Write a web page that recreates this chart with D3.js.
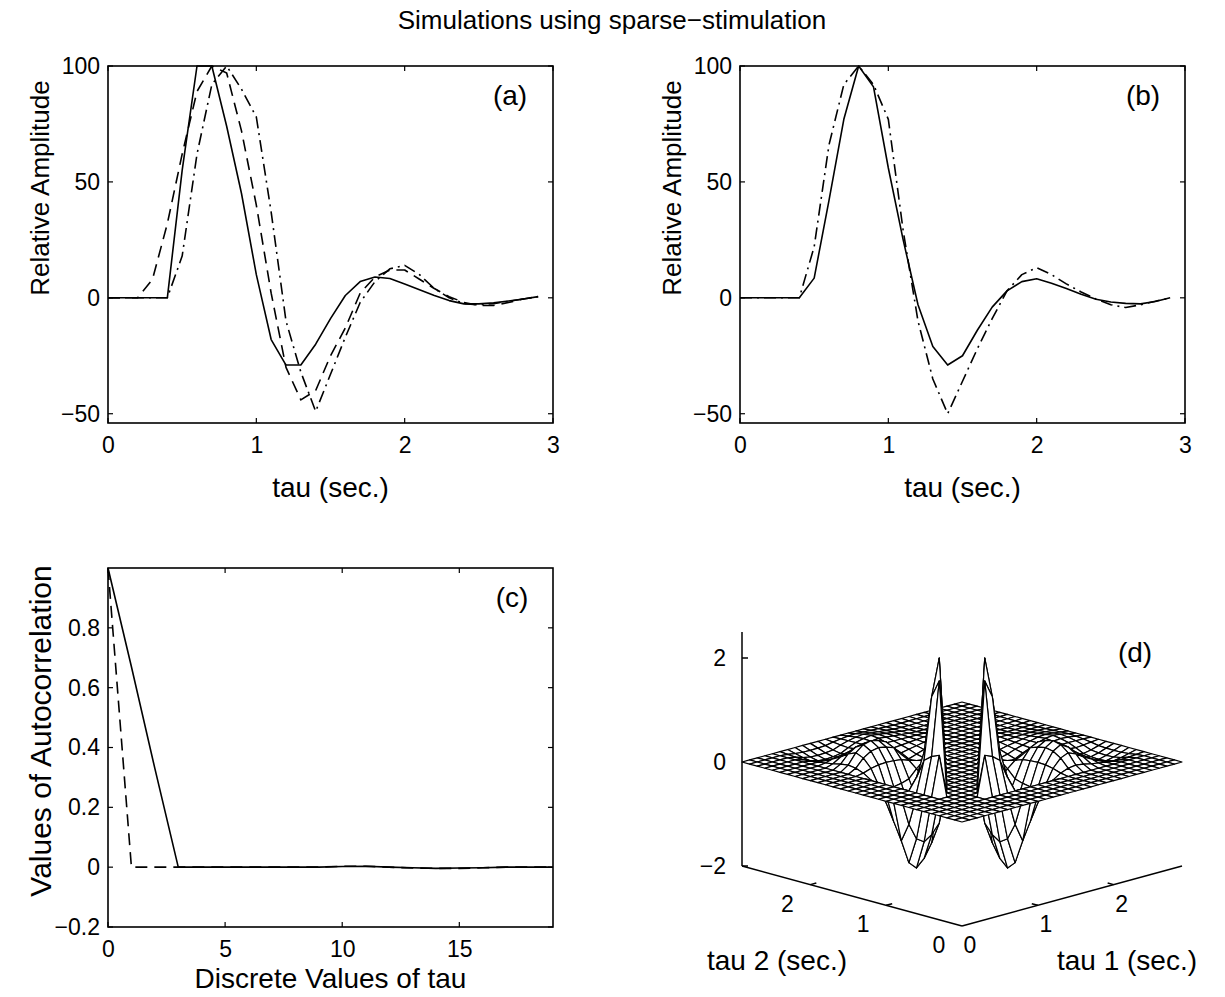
<!DOCTYPE html>
<html><head><meta charset="utf-8">
<script src="https://cdn.jsdelivr.net/npm/d3@7/dist/d3.min.js"></script>
<style>
body{margin:0;background:#fff;}
svg text{font-family:"Liberation Sans",Arial,Helvetica,sans-serif;fill:#000;}
</style></head><body>
<svg id="fig" width="1225" height="997"></svg>
<script>
// ---------- data ----------
const title = "Simulations using sparse\u2212stimulation";
const tau = [0,0.1,0.2,0.3,0.4,0.5,0.6,0.7,0.8,0.9,1.0,1.1,1.2,1.3,1.4,1.5,1.6,1.7,1.8,1.9,2.0,2.1,2.2,2.3,2.4,2.5,2.6,2.7,2.8,2.9];

// panel (a)
const aSolid   = [0,0,0,0,0,55,100,100,74,45,10,-18,-29,-29,-20,-9,1,7,9,8.3,6,3.5,1,-1.2,-2.6,-2.6,-2.2,-1.4,-0.5,0.5];
const aDashed  = [0,0,0,8,32,62,89,100,97,72,40,2,-30,-44,-40,-25,-13,2,9,12,12,8,4,0.5,-2,-3.3,-3.3,-2,-0.5,0.5];
const aDashDot = [0,0,0,0,0,18,62,92,100,90,78,37,-10,-32,-49,-33,-17,-2,7,12.5,14,10,4,0,-2.5,-3,-2.5,-1.5,-0.5,0.5];

// panel (b)
const bSolid   = [0,0,0,0,0,8.5,42,77,100,91,56,25,-3,-21,-29,-25,-14,-4,3,7,8.2,6.3,4,1.5,-0.6,-1.8,-2.4,-2.6,-1.6,0];
const bDashDot = [0,0,0,0,0,22,66,92,100,92,77,29,-10,-35,-50,-36,-22,-9,3,10,13,10,6,2.5,-0.5,-3,-4.2,-3,-1.5,0];

const ampTicks = [-50,0,50,100];
const tauTicks = [0,1,2,3];

// panel (c)
const lag = [0,1,2,3,4,5,6,7,8,9,10,11,12,13,14,15,16,17,18,19];
const cSolid  = [1,0.67,0.33,0,0,0,0,0,0,0,0.002,0.003,0,-0.002,-0.004,-0.003,-0.002,0,0,0];
const cDashed = [1,0,0,0,0,0,0,0,0,0,0.003,0.003,0,-0.003,-0.004,-0.004,-0.002,0,0,0];
const acTicks = [-0.2,0,0.2,0.4,0.6,0.8];
const lagTicks = [0,5,10,15];

// panel (d): estimated kernel profile along tau and width of the unestimated diagonal band
const kernelProfile = [0,0,0,0,0,0.41,1.23,1.72,1.87,1.72,1.44,0.54,-0.19,-0.65,-0.94,-0.67,-0.41,-0.17,0.06,0.19,0.24,0.19,0.11,0.05,-0.01,-0.06,-0.08,-0.06,-0.03,0];
const diagonalBand = 3;
const zTicks = [-2,0,2];
const floorTicks = [0,1,2];

// ---------- drawing ----------
const svg = d3.select("#fig");
const TICKF = 23, LABF = 28;

svg.append("text").attr("x",612).attr("y",29).attr("text-anchor","middle")
  .attr("font-size",26).text(title);

function panel2d(opt){
  const g = svg.append("g");
  const x = d3.scaleLinear().domain(opt.xd).range([opt.x0,opt.x1]);
  const y = d3.scaleLinear().domain(opt.yd).range([opt.y1,opt.y0]);
  const tl = 5;
  const bx = d3.axisBottom(x).tickValues(opt.xt).tickSize(0).tickPadding(9).tickFormat(d=>String(d));
  const gb = g.append("g").attr("transform",`translate(0,${opt.y1})`).call(bx);
  gb.select(".domain").remove();
  gb.selectAll("text").attr("font-size",TICKF).attr("font-family","Liberation Sans, Arial, sans-serif").attr("fill","#000").attr("dy","0.9em");
  const ly = d3.axisLeft(y).tickValues(opt.yt).tickSize(0).tickPadding(8)
    .tickFormat(d=> (d<0?"\u2212":"")+String(Math.abs(d)));
  const gl = g.append("g").attr("transform",`translate(${opt.x0},0)`).call(ly);
  gl.select(".domain").remove();
  gl.selectAll("text").attr("font-size",TICKF).attr("font-family","Liberation Sans, Arial, sans-serif").attr("fill","#000");
  const tk = g.append("g").attr("stroke","#000").attr("stroke-width",1.2);
  opt.xt.forEach(v=>{
    tk.append("line").attr("x1",x(v)).attr("x2",x(v)).attr("y1",opt.y1).attr("y2",opt.y1-tl);
    tk.append("line").attr("x1",x(v)).attr("x2",x(v)).attr("y1",opt.y0).attr("y2",opt.y0+tl);
  });
  opt.yt.forEach(v=>{
    tk.append("line").attr("x1",opt.x0).attr("x2",opt.x0+tl).attr("y1",y(v)).attr("y2",y(v));
    tk.append("line").attr("x1",opt.x1).attr("x2",opt.x1-tl).attr("y1",y(v)).attr("y2",y(v));
  });
  g.append("rect").attr("x",opt.x0).attr("y",opt.y0).attr("width",opt.x1-opt.x0).attr("height",opt.y1-opt.y0)
    .attr("fill","none").attr("stroke","#000").attr("stroke-width",1.6);
  const line = d3.line().x(d=>x(d[0])).y(d=>y(d[1]));
  opt.series.forEach(s=>{
    g.append("path").datum(opt.xs.map((t,i)=>[t,s.v[i]])).attr("d",line)
      .attr("fill","none").attr("stroke","#000").attr("stroke-width",1.6)
      .attr("stroke-dasharray",s.dash||null).attr("stroke-linejoin","round");
  });
  g.append("text").attr("x",(opt.x0+opt.x1)/2).attr("y",opt.xly).attr("text-anchor","middle")
    .attr("font-size",LABF).text(opt.xl);
  g.append("text").attr("transform",`translate(${opt.ylx},${opt.ylc}) rotate(-90)`)
    .attr("text-anchor","middle").attr("font-size",opt.ylf).text(opt.yl);
  g.append("text").attr("x",opt.tagx).attr("y",opt.y0+39).attr("text-anchor","middle")
    .attr("font-size",LABF).text(opt.tag);
}

const DASH = "12,7", DASHDOT = "12,5,2,5";

panel2d({x0:108,x1:553,y0:66,y1:423,xd:[0,3],yd:[-54,100],xt:tauTicks,yt:ampTicks,xs:tau,
  series:[{v:aSolid},{v:aDashed,dash:DASH},{v:aDashDot,dash:DASHDOT}],
  xl:"tau (sec.)",xly:497,yl:"Relative Amplitude",ylx:49,ylc:188,ylf:26,tag:"(a)",tagx:510});
panel2d({x0:740,x1:1185,y0:66,y1:423,xd:[0,3],yd:[-54,100],xt:tauTicks,yt:ampTicks,xs:tau,
  series:[{v:bSolid},{v:bDashDot,dash:DASHDOT}],
  xl:"tau (sec.)",xly:497,yl:"Relative Amplitude",ylx:681,ylc:188,ylf:26,tag:"(b)",tagx:1143});
panel2d({x0:108,x1:553,y0:568,y1:927,xd:[0,19],yd:[-0.2,1],xt:lagTicks,yt:acTicks,xs:lag,
  series:[{v:cSolid},{v:cDashed,dash:DASH}],
  xl:"Discrete Values of tau",xly:988,yl:"Values of Autocorrelation",ylx:51,ylc:731,ylf:30,tag:"(c)",tagx:512});

// ---------- panel (d): 3-D mesh ----------
(function(){
  const g = svg.append("g");
  const n = tau.length, tmax = tau[n-1];
  const px = d3.scaleLinear().domain([-tmax,tmax]).range([742,1182]);      // t1 - t2
  const pdepth = d3.scaleLinear().domain([0,2*tmax]).range([926,806]);     // t1 + t2 (floor)
  const pz = d3.scaleLinear().domain([-2,2.5]).range([0,-234]);            // height
  const P = (t1,t2,z)=>[px(t1-t2), pdepth(t1+t2)+pz(z)];
  const Z = tau.map((_,i)=>tau.map((_,j)=> Math.abs(i-j)<diagonalBand ? 0 : kernelProfile[i]*kernelProfile[j]));
  const ax = g.append("g").attr("stroke","#000").attr("stroke-width",1.5).attr("fill","none");
  const c0 = P(0,tmax,-2), cTop = P(0,tmax,2.5), cF = P(0,0,-2), cR = P(tmax,0,-2);
  ax.append("line").attr("x1",c0[0]).attr("y1",c0[1]).attr("x2",cTop[0]).attr("y2",cTop[1]);
  ax.append("line").attr("x1",c0[0]).attr("y1",c0[1]).attr("x2",cF[0]).attr("y2",cF[1]);
  ax.append("line").attr("x1",cF[0]).attr("y1",cF[1]).attr("x2",cR[0]).attr("y2",cR[1]);
  zTicks.forEach(v=>{
    const p = P(0,tmax,v);
    ax.append("line").attr("x1",p[0]).attr("y1",p[1]).attr("x2",p[0]+6).attr("y2",p[1]);
    g.append("text").attr("x",p[0]-16).attr("y",p[1]).attr("dy","0.36em").attr("text-anchor","end")
      .attr("font-size",TICKF).text((v<0?"\u2212":"")+Math.abs(v));
  });
  floorTicks.forEach(v=>{
    if(v>0){
      const a=P(0,v,-2), b=P(0.08,v,-2); ax.append("line").attr("x1",a[0]).attr("y1",a[1]).attr("x2",b[0]).attr("y2",b[1]);
      const c=P(v,0,-2), d=P(v,0.08,-2); ax.append("line").attr("x1",c[0]).attr("y1",c[1]).attr("x2",d[0]).attr("y2",d[1]);
    }
    const l2=P(0,v,-2), l1=P(v,0,-2);
    g.append("text").attr("x",l2[0]-23).attr("y",l2[1]+27).attr("text-anchor","middle").attr("font-size",TICKF).text(v);
    g.append("text").attr("x",l1[0]+8).attr("y",l1[1]+27).attr("text-anchor","middle").attr("font-size",TICKF).text(v);
  });
  g.append("text").attr("x",777).attr("y",970).attr("text-anchor","middle").attr("font-size",LABF).text("tau 2 (sec.)");
  g.append("text").attr("x",1127).attr("y",970).attr("text-anchor","middle").attr("font-size",LABF).text("tau 1 (sec.)");
  g.append("text").attr("x",1135).attr("y",662).attr("text-anchor","middle").attr("font-size",LABF).text("(d)");
  const quads = [];
  for(let i=0;i<n-1;i++) for(let j=0;j<n-1;j++){
    const pts = [[i,j],[i+1,j],[i+1,j+1],[i,j+1]];
    const t1c=(tau[i]+tau[i+1])/2, t2c=(tau[j]+tau[j+1])/2;
    const zc=(Z[i][j]+Z[i+1][j]+Z[i+1][j+1]+Z[i][j+1])/4;
    quads.push({pts, depth: 73*(t1c+t2c) - 14.7*zc});
  }
  quads.sort((a,b)=>b.depth-a.depth);
  g.append("g").selectAll("path").data(quads).join("path")
    .attr("d",q=>"M"+q.pts.map(([i,j])=>P(tau[i],tau[j],Z[i][j]).join(",")).join("L")+"Z")
    .attr("fill","#fff").attr("stroke","#000").attr("stroke-width",1.2).attr("stroke-linejoin","round");
})();
</script>
</body></html>
